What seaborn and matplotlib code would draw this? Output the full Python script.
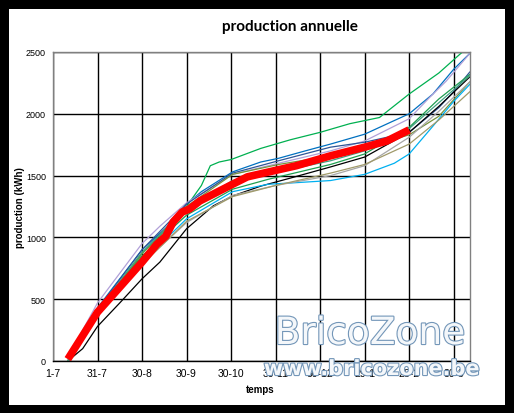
"""
Production annuelle - cumulative yearly production per season
"""

import matplotlib.pyplot as plt
import matplotlib.patheffects as pe
import pandas as pd
import seaborn as sns

sns.set_style("white")
plt.rcParams['font.family'] = ['Liberation Sans', 'DejaVu Sans']
plt.rcParams['text.color'] = 'black'
plt.rcParams['axes.labelcolor'] = 'black'
plt.rcParams['xtick.color'] = 'black'
plt.rcParams['ytick.color'] = 'black'

# Tick labels of the time axis (days counted from 1-7)
X_TICKS = [0, 30, 60, 90, 120, 150, 180, 210, 240, 270]
X_LABELS = ['1-7', '31-7', '30-8', '30-9', '30-10', '30-11', '30-12', '29-1', '28-2', '30-3']
Y_TICKS = [0, 500, 1000, 1500, 2000, 2500]

# Each series: days and cumulative kWh
GREEN_DAYS = [10, 30, 45, 60, 75, 90, 100, 106, 112, 120, 140, 160, 180, 200, 220, 240, 260, 274, 278]
GREEN_KWH = [0, 420, 620, 870, 1050, 1250, 1420, 1580, 1610, 1630, 1720, 1790, 1850, 1920, 1970, 2160, 2330, 2480, 2520]

BLUE_DAYS = [10, 30, 60, 80, 90, 100, 121, 140, 152, 170, 187, 210, 229, 240, 256, 270, 281]
BLUE_KWH = [0, 430, 900, 1120, 1270, 1370, 1530, 1610, 1640, 1700, 1755, 1835, 1940, 2000, 2160, 2360, 2490]

LAVENDER_DAYS = [10, 20, 30, 60, 72, 90, 121, 152, 187, 210, 240, 254, 265, 281]
LAVENDER_KWH = [0, 250, 470, 950, 1090, 1280, 1510, 1600, 1700, 1780, 1960, 2135, 2265, 2490]

DARKBLUE_DAYS = [10, 30, 60, 90, 121, 152, 187, 210, 240, 260, 270, 281]
DARKBLUE_KWH = [0, 420, 900, 1270, 1520, 1620, 1730, 1770, 1850, 2050, 2180, 2340]

OLIVE_DAYS = [10, 30, 60, 90, 121, 152, 187, 210, 240, 260, 281]
OLIVE_KWH = [0, 400, 870, 1250, 1510, 1590, 1660, 1720, 1830, 1980, 2260]

BLACK_DAYS = [10, 20, 30, 45, 60, 72, 90, 108, 121, 140, 160, 187, 210, 240, 260, 281]
BLACK_KWH = [0, 100, 280, 470, 665, 800, 1070, 1255, 1335, 1415, 1480, 1570, 1650, 1850, 2060, 2300]

SKY_DAYS = [10, 30, 60, 90, 121, 145, 160, 187, 210, 230, 240, 256, 270, 281]
SKY_KWH = [0, 380, 800, 1150, 1370, 1430, 1440, 1460, 1510, 1600, 1675, 1900, 2100, 2240]

GREEN2_DAYS = [10, 30, 60, 90, 121, 145, 187, 210, 240, 260, 281]
GREEN2_KWH = [0, 400, 850, 1180, 1390, 1470, 1590, 1675, 1890, 2120, 2320]

GRAY_DAYS = [10, 30, 60, 90, 121, 150, 187, 210, 240, 260, 281]
GRAY_KWH = [0, 370, 790, 1120, 1340, 1420, 1500, 1580, 1810, 2020, 2260]

KHAKI_DAYS = [10, 30, 60, 90, 121, 150, 187, 210, 240, 260, 281]
KHAKI_KWH = [0, 380, 780, 1130, 1330, 1420, 1520, 1590, 1755, 1950, 2180]

TEAL_DAYS = [10, 30, 60, 90, 121, 152, 187, 210, 240, 281]
TEAL_KWH = [0, 410, 880, 1230, 1460, 1530, 1620, 1700, 1880, 2310]

RED_DAYS = [10, 30, 43, 60, 70, 76, 81, 87, 92, 99, 121, 131, 151, 164, 187, 210, 225, 240]
RED_KWH = [15, 395, 570, 800, 945, 1010, 1125, 1205, 1230, 1295, 1430, 1490, 1545, 1580, 1660, 1730, 1780, 1870]

SERIES = {
    'green': (GREEN_DAYS, GREEN_KWH, '#00b050'),
    'blue': (BLUE_DAYS, BLUE_KWH, '#0070c0'),
    'lavender': (LAVENDER_DAYS, LAVENDER_KWH, '#b1a0d8'),
    'darkblue': (DARKBLUE_DAYS, DARKBLUE_KWH, '#2f5597'),
    'olive': (OLIVE_DAYS, OLIVE_KWH, '#77933c'),
    'black': (BLACK_DAYS, BLACK_KWH, '#000000'),
    'sky': (SKY_DAYS, SKY_KWH, '#00b0f0'),
    'green2': (GREEN2_DAYS, GREEN2_KWH, '#1e9e50'),
    'gray': (GRAY_DAYS, GRAY_KWH, '#a6a6a6'),
    'khaki': (KHAKI_DAYS, KHAKI_KWH, '#a09a6a'),
    'teal': (TEAL_DAYS, TEAL_KWH, '#3fa080'),
}

frames = [pd.DataFrame({'jour': d, 'kwh': v, 'serie': name}) for name, (d, v, _) in SERIES.items()]
data = pd.concat(frames, ignore_index=True)
palette = {name: c for name, (_, _, c) in SERIES.items()}
red = pd.DataFrame({'jour': RED_DAYS, 'kwh': RED_KWH})

fig = plt.figure(figsize=(5.14, 4.14), dpi=100, facecolor='black')
# White chart area inside the black frame
fig.patches.append(plt.Rectangle((9 / 514, 8 / 414), 496 / 514, 396 / 414, zorder=-5,
                                 transform=fig.transFigure, facecolor='white', edgecolor='none'))
ax = fig.add_axes([53 / 514, 52 / 414, 417 / 514, 309 / 414])
ax.set_facecolor('white')

sns.lineplot(data=data, x='jour', y='kwh', hue='serie', palette=palette,
             linewidth=0.9, legend=False, ax=ax)
sns.lineplot(data=red, x='jour', y='kwh', color='#ff0000', linewidth=5.5,
             legend=False, ax=ax, solid_capstyle='butt')

ax.set_xlim(0, 281)
ax.set_ylim(0, 2500)
ax.set_xticks(X_TICKS)
ax.set_xticklabels(X_LABELS, fontsize=7.5)
ax.set_yticks(Y_TICKS)
ax.set_yticklabels([str(t) for t in Y_TICKS], fontsize=6.5)
ax.grid(True, color='black', linewidth=1)
ax.set_axisbelow(True)
for side in ['left', 'right', 'top', 'bottom']:
    ax.spines[side].set_color('#808080')
    ax.spines[side].set_linewidth(1)
ax.spines['bottom'].set_color('black')
ax.tick_params(axis='both', length=0, pad=5)
ax.set_xlabel('temps', fontsize=7, fontweight='bold')
ax.xaxis.set_label_coords((260 - 53) / 417, -0.075)
ax.set_ylabel('production (kWh)', fontsize=7, fontweight='bold')
ax.yaxis.set_label_coords(-0.068, 0.5)

fig.text(290 / 514, 1 - 27 / 414, 'production annuelle', ha='center', va='center',
         fontsize=11, fontweight='bold', family=['Lato', 'DejaVu Sans'])

# Watermark
outline = [pe.Stroke(linewidth=1.6, foreground='#7396b8'), pe.Normal()]
fig.text(370 / 514, 1 - 335 / 414, 'BricoZone', ha='center', va='center', fontsize=27,
         color='#f4f7fa', path_effects=outline, family=['DejaVu Sans'])
fig.text(372 / 514, 1 - 370 / 414, 'www.bricozone.be', ha='center', va='center', fontsize=15,
         color='#f4f7fa', path_effects=outline, family=['DejaVu Sans'], fontweight='bold')

fig.savefig('out.png', dpi=100, facecolor='black')
